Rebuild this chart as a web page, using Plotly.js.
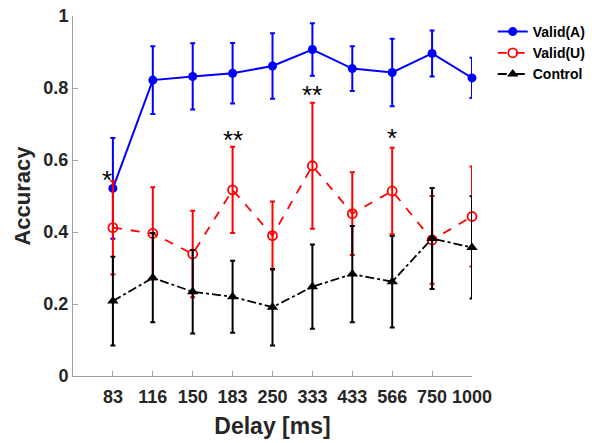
<!DOCTYPE html>
<html>
<head>
<meta charset="utf-8">
<script src="https://cdn.plot.ly/plotly-3.0.1.min.js"></script>
<style>html,body{margin:0;padding:0;background:#fff;}#chart{width:592px;height:443px;}</style>
</head>
<body>
<div id="chart"></div>
<script>
const delays = ["83","116","150","183","250","333","433","566","750","1000"];
const validA = [0.521,0.822,0.832,0.841,0.861,0.907,0.854,0.843,0.896,0.828];
const validAErr = [0.14,0.094,0.092,0.084,0.091,0.073,0.062,0.094,0.064,0.056];
const validU = [0.412,0.396,0.339,0.517,0.390,0.584,0.451,0.514,0.378,0.443];
const validUErr = [0.13,0.128,0.12,0.12,0.095,0.175,0.115,0.12,0.122,0.139];
const control = [0.208,0.273,0.234,0.220,0.191,0.248,0.283,0.262,0.382,0.357];
const controlErr = [0.123,0.124,0.116,0.10,0.106,0.117,0.134,0.127,0.14,0.142];
const sigLabels = ["*","","","**","","**","","*","",""];
const sigY = [0.545,null,null,0.655,null,0.78,null,0.66,null,null];

const xpos = delays.map((d,i)=>i+1);

const traces = [
  {x:xpos,y:validA,name:'Valid(A)',type:'scatter',mode:'lines+markers',cliponaxis:false,
   line:{color:'#0000ff',width:2},marker:{symbol:'circle',size:9,color:'#0000ff'},
   error_y:{type:'data',array:validAErr,visible:true,color:'#0000ff',thickness:2,width:2.5}},
  {x:xpos,y:validU,name:'Valid(U)',type:'scatter',mode:'lines+markers',cliponaxis:false,
   line:{color:'#ff0000',width:1.8,dash:'dash'},marker:{symbol:'circle-open',size:9,color:'#ff0000',line:{width:1.8,color:'#ff0000'}},
   error_y:{type:'data',array:validUErr,visible:true,color:'#ff0000',thickness:2,width:2.5}},
  {x:xpos,y:control,name:'Control',type:'scatter',mode:'lines+markers',cliponaxis:false,
   line:{color:'#000000',width:1.8,dash:'dashdot'},marker:{symbol:'triangle-up',size:10,color:'#000000'},
   error_y:{type:'data',array:controlErr,visible:true,color:'#000000',thickness:2,width:2.5}}
];

const annotations = [];
sigLabels.forEach((s,i)=>{
  if(s){annotations.push({x:xpos[i],y:sigY[i],xref:'x',yref:'y',text:s,showarrow:false,
    xshift: i===0 ? -6 : 0,
    font:{family:'Liberation Sans, Arial, sans-serif',size:26,color:'#000'}});}
});

const layout = {
  width:592,height:443,
  margin:{l:73,r:120,t:16,b:67,autoexpand:false},
  paper_bgcolor:'#fff',plot_bgcolor:'#fff',
  font:{family:'Liberation Sans, Arial, sans-serif',color:'#262626'},
  showlegend:true,
  legend:{x:1.052,y:1.0,xanchor:'left',yanchor:'top',bgcolor:'rgba(0,0,0,0)',
    font:{size:14,weight:'bold',color:'#000'},tracegroupgap:0,itemwidth:30},
  xaxis:{range:[0,10],tickvals:xpos,ticktext:delays,showgrid:false,zeroline:false,automargin:false,
    showline:true,linecolor:'#a0a0a0',linewidth:1,ticks:'inside',ticklen:5,tickcolor:'#a0a0a0',
    ticklabelstandoff:4,
    tickfont:{size:18,weight:'bold',color:'#262626'},
    title:{text:'Delay [ms]',font:{size:23,weight:'bold',color:'#262626'},standoff:12}},
  yaxis:{range:[0,1],tickvals:[0,0.2,0.4,0.6,0.8,1],ticktext:['0','0.2','0.4','0.6','0.8','1'],
    showgrid:false,zeroline:false,showline:true,linecolor:'#a0a0a0',linewidth:1,automargin:false,
    ticks:'inside',ticklen:5,tickcolor:'#a0a0a0',
    tickfont:{size:18,weight:'bold',color:'#262626'},
    title:{text:'Accuracy',font:{size:22,weight:'bold',color:'#262626'},standoff:6}},
  annotations:annotations
};

Plotly.newPlot('chart',traces,layout,{displayModeBar:false,staticPlot:true});
</script>
</body>
</html>
